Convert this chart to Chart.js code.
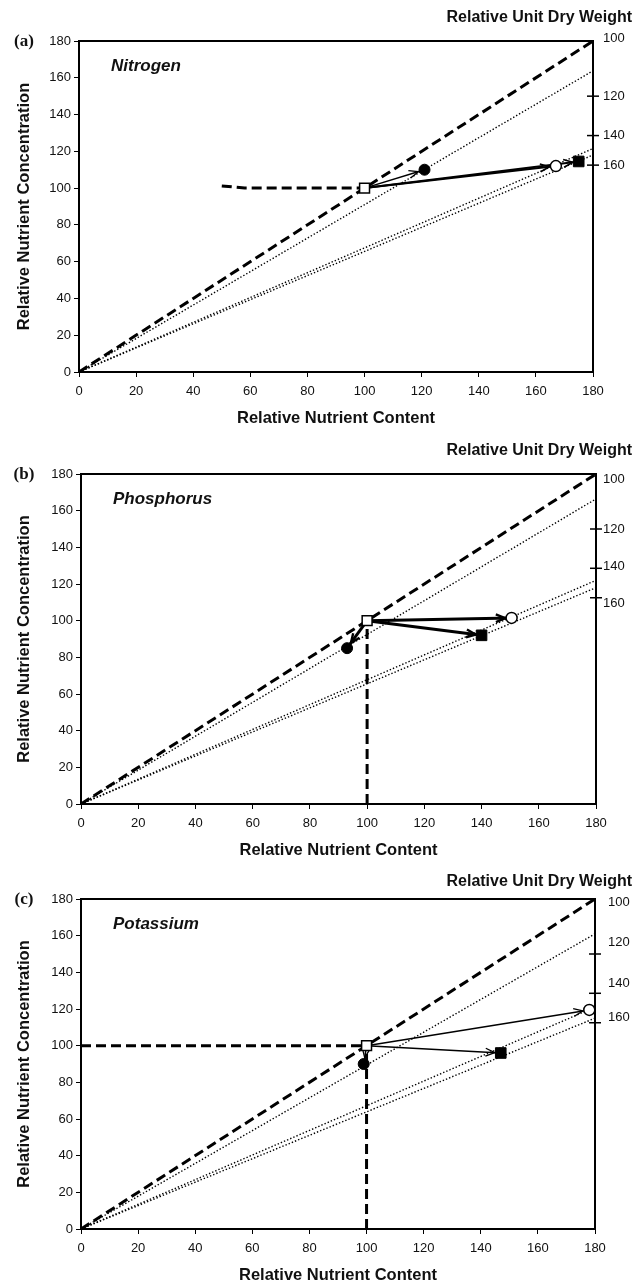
<!DOCTYPE html>
<html>
<head>
<meta charset="utf-8">
<script src="https://cdn.jsdelivr.net/npm/chart.js@4.4.0/dist/chart.umd.min.js"></script>
<style>
  body { margin: 0; background: #fff; width: 636px; height: 1287px; position: relative; overflow: hidden; }
  canvas { position: absolute; left: 0; }
</style>
</head>
<body>
<canvas id="chartN" width="636" height="432" style="top:0px"></canvas>
<canvas id="chartP" width="636" height="432" style="top:432px"></canvas>
<canvas id="chartK" width="636" height="425" style="top:864px"></canvas>
<script>
// shared axis values
const axisTicks = [0, 20, 40, 60, 80, 100, 120, 140, 160, 180]
const dryWeightTicks = [100, 120, 140, 160]
const panelLabels = ['(a)', '(b)', '(c)']
const elementNames = ['Nitrogen', 'Phosphorus', 'Potassium']

// dashed 1:1 line (unit dry weight = 100)
const diagonal = [[0, 0], [180, 180]]

// dotted unit dry weight isolines: concentration reached at content = 180
const nIsolines = [163.8, 121.5, 118]
const pIsolines = [166.4, 122, 118]
const kIsolines = [161, 121, 115]

// dashed guide lines
const nGuides = [[[50, 101.2], [58, 100], [100, 100]]]
const pGuides = [[[100, 0], [100, 100]]]
const kGuides = [[[0, 100], [50, 100], [100, 100]], [[100, 0], [100, 100]]]

// points [relative content, relative concentration]
const nControl = [100, 100]
const nCircle = [121, 110]
const nOpenCircle = [167, 112]
const nSquare = [175, 114.5]

const pControl = [100, 100]
const pCircle = [93, 85]
const pOpenCircle = [150.5, 101.5]
const pSquare = [140, 92]

const kControl = [100, 100]
const kCircle = [99, 90]
const kOpenCircle = [178, 119.5]
const kSquare = [147, 96]

const FONT = 'Liberation Sans, Arial, Helvetica, sans-serif'

const xy = p => ({ x: p[0], y: p[1] })

function buildDatasets(control, circle, openCircle, square, isolines, guides, arrowWidths) {
  const sets = []
  // markers on top
  sets.push({ data: [xy(control)], pointStyle: 'rect', pointRadius: 7, backgroundColor: '#fff', borderColor: '#000', borderWidth: 1.5, order: 0 })
  sets.push({ data: [xy(circle)], pointStyle: 'circle', pointRadius: 5.5, backgroundColor: '#000', borderColor: '#000', borderWidth: 1, order: 0 })
  sets.push({ data: [xy(openCircle)], pointStyle: 'circle', pointRadius: 5.5, backgroundColor: '#fff', borderColor: '#000', borderWidth: 1.5, order: 0 })
  sets.push({ data: [xy(square)], pointStyle: 'rect', pointRadius: 7.5, backgroundColor: '#000', borderColor: '#000', borderWidth: 1, order: 0 })
  // arrows from control
  const targets = [[circle, 6.5], [openCircle, 6.5], [square, 6]]
  targets.forEach((t, i) => {
    sets.push({ data: [xy(control), xy(t[0])], showLine: true, pointRadius: 0, borderColor: '#000', borderWidth: arrowWidths[i], arrowGap: t[1], order: 1 })
  })
  // dashed lines
  sets.push({ data: diagonal.map(xy), showLine: true, pointRadius: 0, borderColor: '#000', borderWidth: 3, borderDash: [10, 5], order: 2 })
  guides.forEach(g => {
    sets.push({ data: g.map(xy), showLine: true, pointRadius: 0, borderColor: '#000', borderWidth: 3, borderDash: [10, 5], order: 2 })
  })
  // dotted isolines
  isolines.forEach(v => {
    sets.push({ data: [{ x: 0, y: 0 }, { x: 180, y: v }], showLine: true, pointRadius: 0, borderColor: '#000', borderWidth: 1.4, borderDash: [1.4, 2], order: 3 })
  })
  return sets
}

const arrowPlugin = {
  id: 'arrowHeads',
  afterDatasetDraw(chart, args) {
    const ds = chart.data.datasets[args.index]
    if (ds.arrowGap == null) return
    const a = args.meta.data[0], b = args.meta.data[1]
    const dx = b.x - a.x, dy = b.y - a.y
    const len = Math.hypot(dx, dy)
    const ux = dx / len, uy = dy / len
    const tx = b.x - ux * ds.arrowGap, ty = b.y - uy * ds.arrowGap
    const ctx = chart.ctx
    const head = 10, ang = 0.4
    ctx.save()
    ctx.strokeStyle = '#000'
    ctx.lineWidth = Math.max(1.3, ds.borderWidth * 0.8)
    ctx.beginPath()
    for (const s of [-1, 1]) {
      const c = Math.cos(ang), sn = Math.sin(ang) * s
      const rx = ux * c - uy * sn, ry = ux * sn + uy * c
      ctx.moveTo(tx, ty)
      ctx.lineTo(tx - rx * head, ty - ry * head)
    }
    ctx.stroke()
    ctx.restore()
  }
}

const framePlugin = {
  id: 'frameAndLabels',
  afterDraw(chart, args, opts) {
    const { ctx, chartArea: ca } = chart
    const y = chart.scales.y
    ctx.save()
    // top and right frame
    ctx.strokeStyle = '#000'
    ctx.lineWidth = 2
    ctx.beginPath()
    ctx.moveTo(ca.left, ca.top)
    ctx.lineTo(ca.right, ca.top)
    ctx.lineTo(ca.right, ca.bottom)
    ctx.stroke()
    // right "Relative Unit Dry Weight" scale
    ctx.fillStyle = '#111'
    ctx.font = '13px ' + FONT
    ctx.textAlign = 'left'
    ctx.textBaseline = 'middle'
    ctx.lineWidth = 1.5
    dryWeightTicks.forEach((dw, i) => {
      const py = y.getPixelForValue(180 * 100 / dw)
      if (dw !== 100) {
        ctx.beginPath()
        ctx.moveTo(ca.right - 6, py)
        ctx.lineTo(ca.right + 6, py)
        ctx.stroke()
      }
      ctx.fillText(String(dw), ca.right + opts.labelDx, py + opts.labelDy[i])
    })
    ctx.font = 'bold 16px ' + FONT
    ctx.textAlign = 'right'
    ctx.fillText('Relative Unit Dry Weight', 632, ca.top + opts.titleDy)
    // panel letter
    ctx.font = 'bold 17px Liberation Serif, Times New Roman, serif'
    ctx.textAlign = 'center'
    ctx.fillText(opts.panel, 24, ca.top + 1)
    // element name
    ctx.font = 'italic bold 17px ' + FONT
    ctx.textAlign = 'left'
    ctx.fillText(opts.element, ca.left + 32, ca.top + 25)
    ctx.restore()
  }
}

function makeChart(id, i, datasets, area, labelDx, labelDy, titleDy) {
  return new Chart(document.getElementById(id), {
    type: 'scatter',
    data: { datasets },
    plugins: [arrowPlugin, framePlugin],
    options: {
      responsive: false,
      animation: false,
      events: [],
      layout: { padding: { top: area.top, left: 0, right: 636 - area.right, bottom: 2 } },
      plugins: {
        legend: { display: false },
        tooltip: { enabled: false },
        frameAndLabels: { panel: panelLabels[i], element: elementNames[i], labelDx, labelDy, titleDy }
      },
      scales: {
        x: {
          type: 'linear', min: 0, max: 180,
          afterBuildTicks: s => { s.ticks = axisTicks.map(v => ({ value: v })) },
          afterFit: s => { s.height = 58 },
          ticks: { font: { family: FONT, size: 13 }, color: '#111', padding: 7, maxRotation: 0 },
          grid: { drawOnChartArea: false, drawTicks: true, tickLength: 5, color: '#000', lineWidth: 1 },
          border: { display: true, color: '#000', width: 2 },
          title: { display: true, text: 'Relative Nutrient Content', color: '#111', font: { family: FONT, size: 16.5, weight: 'bold' }, padding: { top: 0, bottom: 1.5 } }
        },
        y: {
          type: 'linear', min: 0, max: 180,
          afterBuildTicks: s => { s.ticks = axisTicks.map(v => ({ value: v })) },
          afterFit: s => { s.width = area.left },
          ticks: { font: { family: FONT, size: 13 }, color: '#111', padding: 3 },
          grid: { drawOnChartArea: false, drawTicks: true, tickLength: 5, color: '#000', lineWidth: 1 },
          border: { display: true, color: '#000', width: 2 },
          title: { display: true, text: 'Relative Nutrient Concentration', color: '#111', font: { family: FONT, size: 16.5, weight: 'bold' }, padding: { top: 15, bottom: 0 } }
        }
      }
    }
  })
}

makeChart('chartN', 0,
  buildDatasets(nControl, nCircle, nOpenCircle, nSquare, nIsolines, nGuides, [1.5, 2, 2]),
  { left: 79, right: 593, top: 41 }, 10, [-3, 0, 0, 0], -23)
makeChart('chartP', 1,
  buildDatasets(pControl, pCircle, pOpenCircle, pSquare, pIsolines, pGuides, [3, 3, 3]),
  { left: 81, right: 596, top: 42 }, 7, [5, 0, -2, 6], -23)
makeChart('chartK', 2,
  buildDatasets(kControl, kCircle, kOpenCircle, kSquare, kIsolines, kGuides, [1.5, 1.5, 1.5]),
  { left: 81, right: 595, top: 35 }, 13, [3, -12, -10, -5], -17)
</script>
</body>
</html>
